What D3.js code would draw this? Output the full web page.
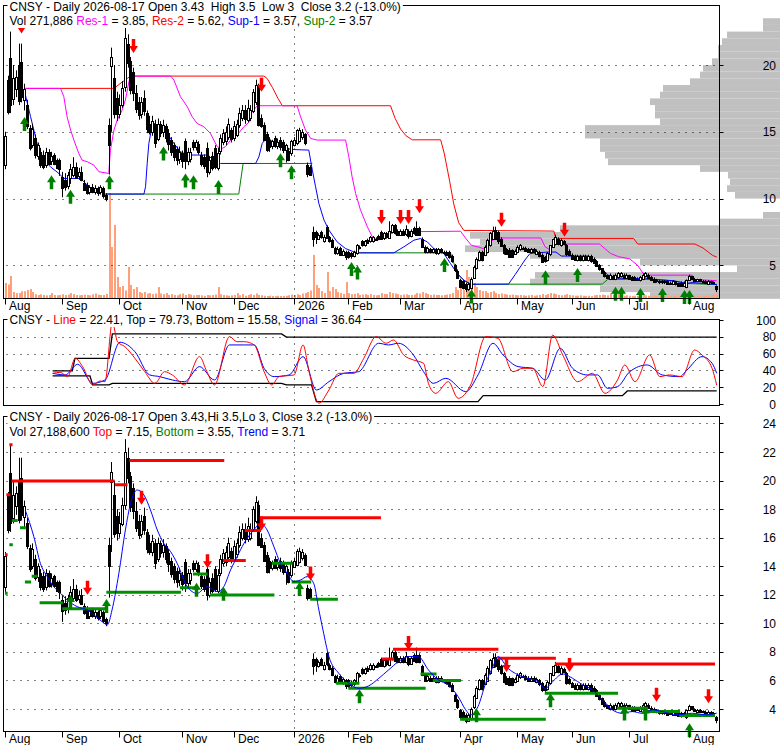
<!DOCTYPE html>
<html>
<head>
<meta charset="utf-8">
<script src="https://cdn.jsdelivr.net/npm/d3@7"></script>
<style>
html, body { margin: 0; padding: 0; background: #fff; }
svg { display: block; font-family: "Liberation Sans", Arial, sans-serif; font-size: 12px; }
</style>
</head>
<body>
<div id="chart"></div>
<script>
// ---- data (trading day index 0 = 2025-08-01 ... 261 = 2026-08-17) ----
var monthIdx = [0, 21, 42, 65, 84, 106, 126, 145, 167, 188, 208, 229, 251];
var monthLabels = ["Aug", "Sep", "Oct", "Nov", "Dec", "2026", "Feb", "Mar", "Apr", "May", "Jun", "Jul", "Aug"];

var opens = [
    12.5,18.9,20.5,17.4,18.2,20.0,20.2,17.4,17.0,15.3,
    14.0,14.5,13.2,13.5,13.3,12.5,13.5,12.8,13.3,12.9,
    12.9,11.6,11.4,11.0,11.5,11.8,12.4,11.7,12.0,11.2,
    11.0,10.5,10.9,10.5,10.8,10.5,10.8,10.3,15.5,19.9,
    19.0,17.5,16.3,17.0,18.3,21.6,20.3,19.5,17.9,17.2,
    16.3,17.5,16.4,15.6,15.0,15.6,14.5,15.6,15.0,15.4,
    14.9,14.4,14.0,13.7,13.0,13.4,14.3,12.8,13.0,14.2,
    13.8,14.1,13.3,13.1,13.8,12.0,13.2,13.8,12.3,13.5,
    14.2,14.3,14.6,15.1,14.5,14.8,15.5,16.0,16.6,15.9,
    16.0,16.6,17.2,18.3,16.0,15.5,14.8,14.4,13.9,14.5,
    13.9,14.4,14.2,13.6,13.6,13.4,14.0,14.1,14.3,14.6,
    14.8,12.5,12.4,7.5,7.5,7.0,7.5,6.8,7.9,7.1,
    6.9,6.3,5.9,6.3,5.8,6.0,6.0,5.9,5.7,5.9,
    6.3,6.8,6.5,6.9,6.8,6.8,7.0,7.2,7.5,7.0,
    7.4,7.1,7.5,8.0,7.6,7.3,7.6,7.3,7.6,7.2,
    7.8,7.8,7.8,7.0,6.4,6.0,6.2,6.0,6.2,5.9,
    6.2,6.0,6.0,6.0,5.7,5.0,4.6,3.9,3.8,3.6,
    3.2,3.3,4.1,4.8,5.4,6.0,5.8,6.0,6.5,7.0,
    7.65,7.5,7.0,6.5,6.2,6.15,6.15,5.9,6.0,6.2,
    6.3,6.3,6.2,6.0,6.2,5.9,6.0,5.8,5.6,5.4,
    5.8,6.4,6.6,7.0,6.5,6.8,6.5,6.1,5.8,5.7,
    5.4,5.7,5.4,5.7,5.4,5.7,5.5,5.3,5.0,4.8,
    4.5,4.3,4.0,4.2,4.0,4.1,4.2,4.3,4.1,4.3,
    4.1,4.1,4.0,3.9,4.0,4.2,4.3,4.1,4.0,3.9,
    3.8,3.7,3.8,3.8,3.7,3.6,3.8,3.7,3.7,3.5,
    3.4,3.9,4.2,4.0,3.8,3.95,3.85,3.8,3.6,3.8,
    3.75,3.43
];
var highs = [
    15.0,19.2,22.5,20.0,19.6,21.6,21.6,18.6,17.4,15.5,
    15.6,14.8,14.2,13.8,13.6,13.8,13.7,13.5,13.4,13.0,
    13.0,12.0,11.9,12.0,12.6,13.1,12.7,12.3,12.4,11.4,
    11.2,11.0,11.1,11.0,10.9,11.0,10.9,10.4,16.0,21.3,
    20.0,18.0,17.8,18.8,22.9,22.3,20.6,19.8,18.5,17.6,
    17.6,18.1,16.6,16.2,16.2,15.9,16.0,15.8,15.9,15.6,
    15.2,14.6,14.2,13.9,13.9,13.6,14.5,13.8,13.8,14.4,
    14.4,14.3,13.5,13.3,14.2,13.2,13.5,14.0,13.8,14.8,
    15.2,15.4,16.0,15.3,15.8,15.9,16.8,17.0,17.0,17.4,
    17.0,18.2,18.9,18.6,16.3,15.7,15.0,14.6,14.4,14.7,
    14.5,14.6,14.4,14.1,13.8,14.4,14.6,15.2,15.3,15.2,
    14.9,12.7,12.5,7.9,7.6,7.4,7.6,7.3,8.0,7.2,
    7.0,6.4,6.4,6.4,6.2,6.1,6.1,6.0,6.1,6.6,
    6.5,6.9,6.9,7.0,7.2,7.2,7.1,7.3,7.6,7.5,
    7.5,8.3,8.1,8.1,7.7,7.7,7.7,8.0,7.7,7.7,
    7.9,8.3,7.9,7.1,6.5,6.4,6.3,6.3,6.3,6.3,
    6.3,6.1,6.1,6.1,5.8,5.1,4.7,4.0,3.9,3.7,
    3.7,4.1,5.0,5.6,6.1,6.1,6.5,7.0,7.5,7.9,
    7.9,7.6,7.1,6.6,6.3,6.3,6.2,6.2,6.5,6.6,
    6.4,6.4,6.3,6.3,6.3,6.2,6.1,5.9,5.7,6.0,
    6.5,7.0,7.3,7.1,7.0,6.9,6.6,6.2,5.9,5.8,
    5.8,5.8,5.8,5.8,5.8,5.8,5.6,5.4,5.1,4.8,
    4.6,4.3,4.4,4.3,4.4,4.5,4.5,4.4,4.4,4.3,
    4.2,4.2,4.1,4.2,4.4,4.5,4.4,4.2,4.1,4.0,
    3.9,3.9,3.9,3.9,3.8,3.9,3.8,3.7,3.8,3.8,
    3.95,4.3,4.2,4.05,4.0,4.0,3.9,3.9,3.9,3.85,
    3.8,3.5
];
var lows = [
    12.2,16.3,16.4,17.0,17.6,17.0,17.2,16.6,15.2,13.6,
    13.8,13.0,12.9,12.3,12.2,12.3,12.5,12.5,12.5,12.2,
    11.7,10.1,10.6,10.7,11.1,11.6,11.5,11.4,11.3,10.6,
    10.3,10.3,10.4,10.3,10.2,10.3,10.0,9.8,11.8,15.0,
    16.0,15.8,16.0,16.8,18.0,19.8,17.8,17.3,16.4,15.9,
    16.0,16.2,14.9,14.8,14.7,13.8,14.3,14.6,14.6,14.2,
    13.6,13.2,12.8,12.5,12.6,12.3,12.2,12.5,12.7,13.6,
    13.6,13.3,12.4,12.2,11.6,11.8,12.1,12.2,12.1,13.3,
    14.0,14.0,14.4,14.2,14.3,14.6,15.3,15.8,15.6,15.7,
    15.8,16.4,17.0,15.4,15.3,14.3,13.5,13.5,13.7,13.8,
    13.7,13.6,13.4,12.7,12.8,13.2,13.9,14.0,14.2,14.4,
    14.0,11.6,11.7,6.4,6.6,6.9,7.0,6.7,7.0,6.7,
    6.3,5.8,5.8,5.8,5.7,5.4,5.5,5.5,5.6,5.8,
    6.2,6.4,6.4,6.6,6.7,6.7,6.9,6.9,7.0,6.9,
    7.0,7.0,7.4,7.3,7.2,7.2,7.2,7.2,7.0,7.1,
    7.3,7.2,7.2,6.3,5.9,5.9,5.9,5.9,5.8,5.8,
    5.9,5.8,5.7,5.5,5.2,4.5,4.0,3.3,3.2,3.0,
    3.1,3.2,4.0,4.7,5.3,5.3,5.7,5.9,6.4,6.9,
    6.9,6.6,6.4,5.8,5.8,5.6,5.6,5.8,5.9,6.1,
    6.2,6.0,6.0,5.9,5.9,5.8,5.6,5.2,5.2,5.3,
    5.7,6.3,6.5,6.5,6.4,6.5,5.7,5.7,5.5,5.4,
    5.3,5.3,5.3,5.4,5.3,5.2,5.1,4.9,4.6,4.4,
    4.1,4.0,3.9,3.9,3.9,4.0,4.1,4.0,4.0,4.0,
    3.9,3.9,3.9,3.8,3.9,4.1,4.0,3.9,3.8,3.7,
    3.6,3.6,3.6,3.6,3.6,3.6,3.5,3.5,3.4,3.5,
    3.3,3.85,3.9,3.8,3.75,3.75,3.7,3.6,3.55,3.6,
    3.6,3.0
];
var closes = [
    14.7,16.5,17.0,19.0,19.1,17.3,17.6,18.2,15.4,13.8,
    15.2,13.2,14.0,12.5,12.4,13.5,12.6,13.2,12.6,12.3,
    12.2,10.8,10.9,11.8,12.2,12.4,11.6,12.0,11.4,10.7,
    10.4,10.9,10.5,10.8,10.4,10.9,10.2,10.0,14.0,20.6,
    16.3,16.3,17.0,18.3,22.0,20.2,18.1,17.9,16.7,16.2,
    17.2,16.5,15.2,15.0,15.8,14.2,15.6,14.9,15.5,14.5,
    14.1,13.5,13.1,12.9,13.5,12.8,12.8,13.5,13.5,13.8,
    14.2,13.5,12.6,12.4,12.0,12.9,12.3,12.4,13.4,14.5,
    14.9,15.0,15.6,14.4,15.4,15.6,16.4,16.6,15.9,16.8,
    16.6,18.0,18.5,15.5,15.4,14.4,13.6,13.9,14.3,13.9,
    14.2,13.9,13.6,14.0,12.9,14.3,14.4,15.1,15.1,15.0,
    14.1,11.8,11.8,7.0,7.1,7.3,7.1,7.1,7.1,6.8,
    6.4,5.9,6.2,5.8,6.1,5.6,5.6,5.7,6.0,6.5,
    6.4,6.5,6.8,6.7,7.1,7.1,7.0,7.0,7.0,7.4,
    7.1,7.6,8.0,7.4,7.3,7.6,7.3,7.7,7.2,7.6,
    7.4,7.3,7.3,6.4,6.0,6.3,6.0,6.2,5.9,6.2,
    6.0,6.0,5.8,5.6,5.3,4.6,4.1,3.4,3.3,3.2,
    3.6,4.0,4.9,5.5,6.0,5.4,6.4,6.9,7.4,7.6,
    7.0,6.8,6.5,5.9,5.8,5.65,5.65,6.1,6.4,6.5,
    6.3,6.1,6.0,6.2,6.0,6.1,5.7,5.3,5.3,5.9,
    6.5,7.0,7.1,6.6,6.9,6.6,5.8,5.8,5.5,5.4,
    5.7,5.4,5.7,5.4,5.7,5.3,5.2,4.9,4.7,4.4,
    4.2,4.1,4.3,4.0,4.3,4.4,4.4,4.1,4.3,4.0,
    3.9,3.9,3.9,4.1,4.3,4.4,4.1,3.9,3.8,3.8,
    3.7,3.8,3.7,3.6,3.6,3.8,3.6,3.5,3.5,3.7,
    3.9,4.2,4.0,3.85,3.95,3.8,3.75,3.65,3.8,3.7,
    3.68,3.2
];
// daily volume, thousands of shares
var volumes = [
    1000,900,1470,400,330,330,450,450,530,600,
    400,250,200,250,200,180,200,330,200,180,
    200,250,200,230,330,260,200,180,200,220,
    200,180,250,300,220,200,200,280,7000,3400,
    4870,1400,730,800,500,2070,870,600,730,400,
    330,400,300,330,260,300,730,300,260,330,
    200,260,200,180,260,300,200,260,230,180,
    200,200,180,150,200,180,200,230,730,250,
    200,180,150,180,200,330,180,260,150,200,
    260,200,300,200,180,150,130,150,130,120,
    150,130,130,150,180,230,200,250,200,300,
    330,400,500,2870,870,670,460,330,1730,460,
    730,600,400,330,270,1070,330,260,270,330,
    200,230,260,200,260,200,180,200,330,270,
    260,400,330,300,260,200,230,250,200,200,
    230,330,300,400,330,270,200,230,200,200,
    180,200,230,260,330,730,530,1070,530,1870,
    1400,670,1000,730,530,460,460,330,400,460,
    330,270,300,260,230,200,230,200,180,200,
    180,150,180,200,150,180,200,270,200,260,
    330,300,260,200,180,200,260,200,180,150,
    150,180,150,130,150,130,180,200,200,230,
    200,180,330,200,180,270,200,150,180,150,
    130,150,130,150,200,180,150,130,150,130,
    150,130,120,150,130,150,130,120,150,180,
    330,260,180,150,130,150,130,150,180,200,
    230,272
];

// volume-by-price profile: bin lower edge (bins of 0.5) and relative volume
var profilePrice = [2.5,3.0,3.5,4.0,4.5,5.0,5.5,6.0,6.5,7.0,7.5,8.0,8.5,9.0,9.5,10.0,10.5,11.0,11.5,12.0,12.5,
    13.0,13.5,14.0,14.5,15.0,15.5,16.0,16.5,17.0,17.5,18.0,18.5,19.0,19.5,20.0,20.5,21.0,21.5,22.0,22.5,23.0];
var profileVolume = [130,180,250,245,43,140,250,315,300,310,220,60,17,0,0,45,53,50,52,80,172,
    175,180,180,195,195,120,125,125,130,120,117,90,80,77,68,62,62,58,53,17,17];

// upper panel overlays: [day, price]
var res1Line = [[7.3,18.25],[20.2,18.25],[21.4,17.63],[22.6,16.13],[23.9,15.13],[25.1,14.38],[26.9,13.38],[28.1,12.88],
    [30,12.76],[32.4,12.51],[34.3,12.01],[37.9,11.88],[38.5,13.63],[39.8,15.13],[41,15.88],[42.8,16.63],[44,17.38],
    [45.3,18.75],[45.9,19.17],[60.6,19.17],[61.8,18.88],[64.2,17.63],[66.7,16.88],[68.5,16.13],[70.3,15.63],
    [72.8,15.38],[75.2,14.88],[77.7,13.88],[79.5,13.76],[80.7,13.88],[82.6,14.38],[85,14.76],[87.5,15.38],
    [89.3,15.7],[90.5,16.5],[92.4,16.95],[107,16.95],[108.3,16.12],[110.1,15.13],[112,14.5],[114.4,14.38],
    [124.8,14.38],[126,13.13],[127.2,11.63],[128.5,10.38],[130.3,9.13],[132.8,7.89],[134.6,7.14],[136.4,6.89],
    [140.1,7.14],[142.5,7.51],[167,7.56],[169,7.0],[171,6.5],[174,6.35],[176,6.2],[177.5,6.7],[180,7.05],
    [196.5,7.05],[198,6.4],[199.5,6.2],[201,6.6],[218,6.6],[222,5.9],[225,5.65],[229,5.5],[232,5.0],[234,4.4],
    [235,4.27],[252,4.27],[253,3.95],[261,3.85]];
var res2Line = [[7.3,18.25],[39.8,18.25],[42,18.6],[45.9,19.17],[94.8,19.17],[96,19.0],[98,18.3],[100,17.5],
    [101.6,16.95],[141.3,16.95],[143,16.0],[145,15.2],[147,14.7],[149.3,14.4],[159.7,14.4],[161,13.4],[163,11.3],
    [164.5,9.6],[166.3,8.2],[168.2,7.62],[201.2,7.57],[202,7.02],[230.5,7.02],[232,6.6],[253,6.6],[256,6.3],
    [259.5,5.75],[261,5.62]];
var sup1Line = [[7.3,17.75],[9.2,16.13],[10.4,15.13],[11.6,14.13],[14.1,12.88],[16.5,12.38],[19.6,11.88],
    [21.4,11.51],[27.5,11.51],[29.4,11.14],[31.2,10.76],[34.9,10.51],[36.7,10.34],[50.8,10.34],[51.4,10.89],
    [52,12.63],[52.6,14.13],[53.5,15.13],[54.4,15.63],[56.9,15.38],[59.3,14.88],[61.8,14.13],[64.2,13.51],
    [66.7,13.26],[74,13.26],[76.5,12.88],[78.9,12.63],[91.8,12.63],[93,13.13],[94.2,14.13],[96.1,14.63],
    [98.5,14.13],[101,14.0],[104.6,13.68],[111.3,13.63],[112.6,12.13],[113.8,10.88],[115,9.63],[116.9,8.39],
    [118.7,7.64],[121.7,6.76],[124.8,6.26],[127.9,6.01],[129.7,5.94],[142.5,5.94],[146.2,6.39],[149.9,6.89],
    [152.3,7.01],[154.8,6.76],[157.2,6.26],[160.9,5.89],[163.3,5.14],[165.8,4.39],[168.2,3.89],[170.7,3.59],
    [184.6,3.6],[187,4.3],[190.6,5.4],[192.5,5.9],[199,6.0],[202,6.0],[204,5.7],[214,5.7],[216,5.4],[218,4.9],
    [221,4.3],[223,4.05],[235,4.0],[245,3.85],[250,3.65],[252,3.72],[261,3.57]];
var sup2Line = [[36.7,10.34],[85.6,10.34],[87.2,12.63],[112.6,12.63]];
var sup2LineLate = [[129.7,5.94],[163.3,5.94],[165.8,4.39],[168.2,3.89],[170.7,3.59],[219,3.6],[221,3.95],
    [235,3.97],[245,3.85],[250,3.65],[261,3.57]];

// signal arrows: [day, tip price]
var topDownArrows = [[6,22.35],[47,20.9],[94,18.0],[138,8.1],[145,8.1],[148,8.1],[152,8.9],[182,7.9],[205,7.15]];
var topUpArrows = [[7,16.1],[17,11.75],[24,10.67],[38,11.75],[58,13.9],[66,11.87],[69,11.75],[78,11.4],
    [101,13.4],[105,12.5],[127,5.26],[129,5.0],[161,5.55],[171,3.2],[198,4.63],[210,4.8],[224,3.4],[226,3.4],
    [233,3.3],[241,3.3],[249,3.15],[251,3.15]];

// oscillator: [day, value]
var oscLine = [[17.3,36.5],[20.1,37.7],[22.8,32.6],[25.6,54.4],[28.3,44.5],[32,22.7],[34.7,27.4],[36.5,26.6],
    [39.2,97],[41.1,74.2],[43.8,68.3],[47.5,54.4],[51.1,38.5],[54.8,24.6],[58.4,38.5],[61.2,34.6],[65.7,22.7],
    [71.2,56.4],[73.9,38.5],[76.7,22.7],[82.2,80.2],[84.9,74.2],[87.6,74.2],[91.3,70.3],[94.9,38.5],[97.7,22.7],
    [100.4,32.6],[105.9,34.6],[109.2,70.3],[111.4,38.5],[115,1],[118.7,16.7],[122.3,36.5],[127.8,36.5],
    [131.5,54.4],[136,80.2],[139.7,72.3],[142.4,76.2],[146.1,58.4],[149.7,52.4],[153.4,48.5],[155.2,24.6],
    [157.9,12.7],[162.5,26.6],[166.1,6.8],[170.7,22.7],[176.2,80.2],[180.7,78.2],[186.2,38.5],[189.9,42.5],
    [193.5,42.5],[197.2,20.7],[200.8,82],[204.5,58.4],[210,26.6],[215.4,36.5],[220,12.7],[224.6,28.6],
    [227.3,46.5],[231,26.6],[236.4,58.4],[240.1,32.6],[243.7,34.6],[248.3,32.6],[252.9,64.3],[255.6,58.4],
    [259.3,42.5],[261,22.41]];
var oscSignal = [[17.3,36.5],[21.9,34.6],[26.5,47.3],[32,24.6],[36.5,28.6],[42,73.5],[47.5,62.3],[52.9,34.6],
    [56.6,32.6],[61.2,28.6],[65.7,26.6],[71.2,44.5],[76.7,28.6],[82.2,70.3],[87.6,70.3],[91.3,70.3],[94.9,42.5],
    [98.6,32.6],[104.1,34.6],[109.2,56.4],[114.1,16.7],[118.7,26.6],[124.1,36.5],[129.6,38.5],[136.9,72.3],
    [140.6,70.3],[144.2,72.3],[149.7,58.4],[153.4,38.5],[157,24.6],[161.6,30.6],[168.9,14.7],[173.4,34.6],
    [178.9,72.3],[182.6,58.4],[188.1,44.5],[193.5,42.5],[198.1,28.6],[203.6,66.3],[208.1,42.5],[213.6,34.6],
    [217.3,34.6],[220.9,18.7],[224.6,20.7],[229.1,38.5],[235.5,46.5],[241,34.6],[247.4,32.6],[250.1,40.5],
    [255.6,56.4],[259.3,48.5],[261,36.64]];
var oscTop = [[17.3,39.4],[24.5,39.4],[25.5,54.4],[38,54.4],[39.2,83.5],[101.3,83.5],[103.1,79.73],[261,79.73]];
var oscBottom = [[17.3,33.4],[31,33.4],[32,22.7],[38,22.7],[39.2,24.6],[101.3,24.6],[103.1,22.7],[112.3,22.7],
    [114.1,2.8],[173.4,2.8],[175.3,10],[226.4,10],[228.2,15.58],[261,15.58]];

// lower panel: [start day, end day, price]
var topSegments = [[0,0.6,14.8],[0.5,1.6,19.0],[1.6,2.4,22.5],[2.4,39.8,19.97],[40.4,44.6,19.7],[45.6,80.1,21.4],
    [80,88,14.4],[88,93.6,16.5],[93.6,137.6,17.4],[138.4,142.4,7.5],[142.4,180.7,8.19],[180.7,201.8,7.55],
    [201.8,260.2,7.15]];
var bottomSegments = [[0,0.6,12.1],[1.6,2.5,15.5],[2.5,4.3,17.2],[5.5,7.3,16.7],[7.3,9.2,12.9],[9.8,11.6,13.3],
    [12.7,20.9,11.45],[21,37.2,11.02],[37.2,64.2,12.17],[64.2,70.3,12.5],[69,74,13.45],[75.2,98.5,11.99],
    [97.9,105.2,14.2],[105.2,112,12.9],[112,121.8,11.68],[121.5,129.7,5.8],[126,154,5.45],[152.5,158,6.46],
    [157,167,6.0],[167,198.1,3.28],[198.1,224.6,5.1],[224.6,235.6,4.05],[235.6,247.4,3.82],[247.4,260.2,3.54]];
var trendLine = [[7.3,17.9],[10.4,16.07],[12.8,14.2],[15.3,13.27],[17.7,12.57],[20.2,12.1],[22.6,11.64],
    [26.3,11.17],[30,10.94],[35.6,10.1],[37.4,9.89],[39.1,10.94],[41.6,13.5],[44,16.54],[45.9,18.4],[48.3,19.34],
    [50.8,18.99],[53.2,17.94],[55.7,16.54],[58.1,15.6],[60.6,15.02],[63,14.2],[66.7,12.57],[70.3,12.1],[74,12.57],
    [77.7,12.22],[80.1,12.57],[82.6,13.74],[85,14.67],[87.5,15.6],[91.1,16.54],[93.6,17.0],[96,16.54],[98.5,15.37],
    [100.9,14.2],[103.4,13.5],[105.8,12.92],[108.3,13.04],[110.7,13.27],[113.1,12.8],[115,10.94],[116.5,9.54],
    [118.7,7.67],[122.3,6.5],[126,5.8],[129.6,5.45],[133.3,5.62],[137,6.15],[140.6,6.74],[144.2,7.32],
    [147.9,7.67],[151.5,7.67],[155.2,6.74],[158.8,6.04],[162.5,5.69],[166.1,4.87],[168.9,3.94],[170.7,3.59],
    [173.4,4.17],[176.2,5.8],[178.9,6.97],[180.7,7.67],[184.4,6.85],[188.1,6.39],[191.7,6.15],[195.4,5.92],
    [198.1,5.45],[200.8,5.92],[204.5,6.46],[208.1,6.15],[211.8,5.69],[215.4,5.34],[219.1,4.64],[222.7,3.94],
    [226.4,3.7],[230,3.82],[233.7,3.7],[237.4,3.94],[241,3.82],[246.5,3.59],[252,3.7],[257.4,3.59],[261,3.71]];
var botDownArrows = [[30,12.0],[50,18.3],[74,13.85],[94,16.5],[112,13.0],[148,8.14],[184,6.6],[207,6.6],[239,4.5],[258,4.4]];
var botUpArrows = [[24,11.98],[37,11.7],[70,12.85],[80,12.57],[108,12.9],[130,5.38],[173,4.05],[200,5.1],[227,4.17],[235,4.17],[251,3.0]];

var priceTicks = [5, 10, 15, 20];
var oscTicks = [0, 20, 40, 60, 80, 100];
var lowerTicks = [4, 6, 8, 10, 12, 14, 16, 18, 20, 22, 24];

// ---- layout ----
var W = 780, H = 745;
var left = 3.5, right = 719.5;
var p1 = {t: 5.5, b: 298.5}, p2 = {t: 319.5, b: 405.5}, p3 = {t: 416.5, b: 731.5};
var MAG = "#ff00ff", RED = "#ff0000", BLUE = "#0000ff", GREEN = "#008000";

var svg = d3.select("#chart").append("svg").attr("width", W).attr("height", H);

var xs = d3.scaleLinear().domain([0, 261]).range([5, 716.2]);
var yP = d3.scaleLinear().domain([5, 20]).range([265.4, 65]);
var yV = d3.scaleLinear().domain([0, 8000]).range([298, 178]);
var yO = d3.scaleLinear().domain([0, 100]).range([404, 320]);
var yL = d3.scaleLinear().domain([4, 22]).range([709, 452]);
var wProf = d3.scaleLinear().domain([0, 320]).range([0, 320]);

function clip(id, p) {
    svg.append("clipPath").attr("id", id).append("rect")
        .attr("x", left).attr("y", p.t).attr("width", right - left).attr("height", p.b - p.t);
}
clip("c1", p1); clip("c2", p2); clip("c3", p3);

function cx(i) { return Math.round(xs(i)); }

function gridH(g, vals, yScale) {
    g.selectAll(".gh").data(vals).enter().append("line")
        .attr("x1", left + 3).attr("x2", right - 1)
        .attr("y1", function(d) { return Math.round(yScale(d)) + 0.5; })
        .attr("y2", function(d) { return Math.round(yScale(d)) + 0.5; })
        .attr("stroke", "#000").attr("stroke-dasharray", "1,6");
}
function gridV(g, p) {
    var x = cx(monthIdx[5]) + 0.5;
    g.append("line").attr("x1", x).attr("x2", x).attr("y1", p.t + 3).attr("y2", p.b)
        .attr("stroke", "#000").attr("stroke-dasharray", "1,6");
}
function rightAxis(vals, yScale) {
    var g = svg.append("g");
    g.selectAll("line").data(vals).enter().append("line")
        .attr("x1", right).attr("x2", right + 4)
        .attr("y1", function(d) { return Math.round(yScale(d)) + 0.5; })
        .attr("y2", function(d) { return Math.round(yScale(d)) + 0.5; })
        .attr("stroke", "#000");
    g.selectAll("text").data(vals).enter().append("text")
        .attr("x", 776).attr("y", function(d) { return yScale(d) + 4.5; })
        .attr("text-anchor", "end").text(function(d) { return d; });
}
function bottomAxis(p) {
    var g = svg.append("g");
    g.selectAll("line").data(monthIdx).enter().append("line")
        .attr("x1", function(d) { return cx(d) + 0.5; }).attr("x2", function(d) { return cx(d) + 0.5; })
        .attr("y1", p.b).attr("y2", p.b + 6).attr("stroke", "#000");
    g.selectAll("text").data(monthIdx).enter().append("text")
        .attr("x", function(d) { return cx(d) + 4; }).attr("y", p.b + 11.5)
        .text(function(d, k) { return monthLabels[k]; });
}
function candles(g, yScale) {
    var idx = d3.range(closes.length);
    g.selectAll(".wick").data(idx).enter().append("line")
        .attr("x1", function(i) { return cx(i) + 0.5; }).attr("x2", function(i) { return cx(i) + 0.5; })
        .attr("y1", function(i) { return yScale(highs[i]); }).attr("y2", function(i) { return yScale(lows[i]); })
        .attr("stroke", "#000");
    g.selectAll(".body").data(idx).enter().append("rect")
        .attr("x", function(i) { return cx(i) - 0.5; }).attr("width", 2)
        .attr("y", function(i) { return Math.round(yScale(Math.max(opens[i], closes[i]))) + 0.5; })
        .attr("height", function(i) {
            return Math.max(1, Math.round(Math.abs(yScale(opens[i]) - yScale(closes[i]))));
        })
        .attr("fill", function(i) { return closes[i] >= opens[i] ? "#fff" : "#000"; })
        .attr("stroke", "#000").attr("shape-rendering", "crispEdges");
}
function arrows(g, list, yScale, up, color) {
    var s = up ? 1 : -1;
    var path = "M-1.75," + (s * 14) + "L1.75," + (s * 14) + "L1.75," + (s * 7) + "L4.5," + (s * 7) +
        "L0,0L-4.5," + (s * 7) + "L-1.75," + (s * 7) + "Z";
    g.selectAll(null).data(list).enter().append("path")
        .attr("transform", function(d) { return "translate(" + (cx(d[0]) + 0.5) + "," + yScale(d[1]) + ")"; })
        .attr("d", path).attr("fill", color);
}
function polyline(g, pts, yScale, color, curve, width) {
    var line = d3.line().x(function(d) { return xs(d[0]) + 0.5; }).y(function(d) { return yScale(d[1]); });
    if (curve) line.curve(curve);
    g.append("path").attr("d", line(pts)).attr("fill", "none")
        .attr("stroke", color).attr("stroke-width", width || 1);
}
function border(p) {
    svg.append("rect").attr("x", left).attr("y", p.t).attr("width", right - left).attr("height", p.b - p.t)
        .attr("fill", "none").attr("stroke", "#000").attr("shape-rendering", "crispEdges");
}
function header(x, y, parts) {
    var g = svg.append("g");
    var bg = g.append("rect").attr("fill", "#fff");
    var t = g.append("text").attr("x", x).attr("y", y).style("white-space", "pre");
    parts.forEach(function(p) { t.append("tspan").attr("fill", p[1] || "#000").text(p[0]); });
    var b = t.node().getBBox();
    bg.attr("x", b.x - 2).attr("y", b.y).attr("width", b.width + 4).attr("height", b.height);
}

// ---- upper panel ----
var g1 = svg.append("g");
// volume-by-price profile, anchored at the right edge
g1.selectAll(".prof").data(profilePrice).enter().append("rect")
    .attr("x", function(d, k) { return W - wProf(profileVolume[k]); })
    .attr("width", function(d, k) { return wProf(profileVolume[k]); })
    .attr("y", function(d) { return yP(d + 0.5); })
    .attr("height", function(d) { return yP(d) - yP(d + 0.5); })
    .attr("fill", "#c0c0c0");
var g1c = g1.append("g").attr("clip-path", "url(#c1)");
g1c.selectAll(".vol").data(volumes).enter().append("rect")
    .attr("x", function(d, i) { return cx(i); }).attr("width", 2)
    .attr("y", function(d) { return yV(d); }).attr("height", function(d) { return 298 - yV(d); })
    .attr("fill", "#ffa07a");
gridH(g1c, priceTicks, yP);
gridV(g1c, p1);
polyline(g1c, sup2Line, yP, GREEN);
polyline(g1c, sup2LineLate, yP, GREEN);
polyline(g1c, sup1Line, yP, BLUE);
polyline(g1c, res2Line, yP, RED);
polyline(g1c, res1Line, yP, MAG);
candles(g1c, yP);
border(p1);
arrows(g1, topDownArrows, yP, false, RED);
arrows(g1, topUpArrows, yP, true, GREEN);
rightAxis(priceTicks, yP);
bottomAxis(p1);
header(9.5, 10.5, [["CNSY - Daily 2026-08-17 Open 3.43  High 3.5  Low 3  Close 3.2 (-13.0%)"]]);
header(9.5, 25, [["Vol 271,886 "], ["Res-1", MAG], [" = 3.85, "], ["Res-2", RED], [" = 5.62, "],
    ["Sup-1", BLUE], [" = 3.57, "], ["Sup-2", GREEN], [" = 3.57"]]);

// ---- oscillator panel ----
var g2 = svg.append("g");
var g2c = g2.append("g").attr("clip-path", "url(#c2)");
gridH(g2c, [20, 40, 60, 80], yO);
gridV(g2c, p2);
polyline(g2c, oscTop, yO, "#000", null, 1.3);
polyline(g2c, oscBottom, yO, "#000", null, 1.3);
polyline(g2c, oscSignal, yO, BLUE, d3.curveMonotoneX);
polyline(g2c, oscLine, yO, RED, d3.curveMonotoneX);
border(p2);
rightAxis(oscTicks, yO);
header(9.5, 324, [["CNSY - "], ["Line", RED], [" = 22.41, Top = 79.73, Bottom = 15.58, "], ["Signal", BLUE], [" = 36.64"]]);

// ---- lower panel ----
var g3 = svg.append("g");
var g3c = g3.append("g").attr("clip-path", "url(#c3)");
gridH(g3c, lowerTicks, yL);
gridV(g3c, p3);
candles(g3c, yL);
g3c.selectAll(".ts").data(topSegments).enter().append("line")
    .attr("x1", function(d) { return xs(d[0]); }).attr("x2", function(d) { return xs(d[1]) + 1; })
    .attr("y1", function(d) { return yL(d[2]); }).attr("y2", function(d) { return yL(d[2]); })
    .attr("stroke", RED).attr("stroke-width", 3);
g3c.selectAll(".bs").data(bottomSegments).enter().append("line")
    .attr("x1", function(d) { return xs(d[0]); }).attr("x2", function(d) { return xs(d[1]) + 1; })
    .attr("y1", function(d) { return yL(d[2]); }).attr("y2", function(d) { return yL(d[2]); })
    .attr("stroke", "#009000").attr("stroke-width", 3);
polyline(g3c, trendLine, yL, BLUE, d3.curveMonotoneX);
border(p3);
arrows(g3, botDownArrows, yL, false, RED);
arrows(g3, botUpArrows, yL, true, GREEN);
rightAxis(lowerTicks, yL);
bottomAxis(p3);
header(9.5, 421, [["CNSY - Daily 2026-08-17 Open 3.43,Hi 3.5,Lo 3, Close 3.2 (-13.0%)"]]);
header(9.5, 436, [["Vol 27,188,600 "], ["Top", RED], [" = 7.15, "], ["Bottom", GREEN], [" = 3.55, "],
    ["Trend", BLUE], [" = 3.71"]]);
</script>
</body>
</html>
